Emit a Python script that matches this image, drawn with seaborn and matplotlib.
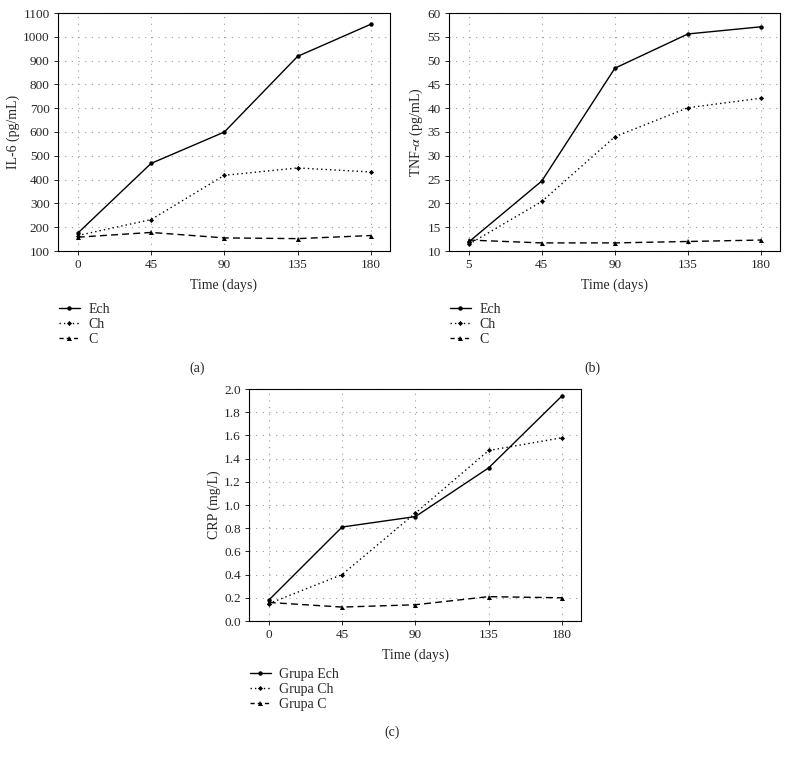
import matplotlib
matplotlib.use("Agg")
import matplotlib.pyplot as plt
import seaborn as sns
import pandas as pd
from matplotlib.lines import Line2D

# ---------------- data ----------------
days_a = ["0", "45", "90", "135", "180"]
days_b = ["5", "45", "90", "135", "180"]
days_c = ["0", "45", "90", "135", "180"]

il6_ech = [175, 468, 600, 918, 1053]
il6_ch = [165, 232, 418, 449, 432]
il6_c = [158, 178, 155, 152, 165]

tnf_ech = [11.9, 24.7, 48.4, 55.6, 57.1]
tnf_ch = [11.4, 20.4, 34.0, 40.1, 42.1]
tnf_c = [12.3, 11.7, 11.7, 12.0, 12.3]

crp_ech = [0.18, 0.81, 0.90, 1.32, 1.94]
crp_ch = [0.15, 0.40, 0.93, 1.47, 1.58]
crp_c = [0.16, 0.12, 0.14, 0.21, 0.20]

groups_ab = ["Ech", "Ch", "C"]
groups_c = ["Grupa Ech", "Grupa Ch", "Grupa C"]

# ---------------- style ----------------
sns.set_style("white")
plt.rcParams["font.family"] = ["Liberation Serif", "DejaVu Serif"]
plt.rcParams["mathtext.fontset"] = "stix"

W, H = 789, 759
fig = plt.figure(figsize=(W / 100, H / 100), dpi=100)

def frac(l, t, r, b):
    return [l / W, 1 - b / H, (r - l) / W, (b - t) / H]

dash_styles = ["", (1, 2.2), (5, 3)]
legend_dashes = ["", (1, 2.2), (3, 2.2)]
marker_styles = ["o", "D", "^"]
msizes = [3.2, 2.6, 3.6]


def panel(rect, labels, series, groups, ylabel, yticks, ylim, yfmt):
    ax = fig.add_axes(rect)
    rows = []
    for g, vals in zip(groups, series):
        for i, v in enumerate(vals):
            rows.append({"pos": i, "val": v, "grp": g})
    df = pd.DataFrame(rows)
    for k, g in enumerate(groups):
        sub = df[df.grp == g]
        sns.lineplot(data=sub, x="pos", y="val", ax=ax, color="black",
                     linewidth=1.0, marker=marker_styles[k],
                     markersize=msizes[k], markeredgewidth=0,
                     dashes=False, legend=False)
        line = ax.lines[-1]
        if dash_styles[k]:
            line.set_dashes(dash_styles[k])
    ax.set_xlim(-0.27, 4.26)
    ax.set_ylim(*ylim)
    ax.set_xticks(range(len(labels)))
    ax.set_xticklabels(labels)
    ax.set_yticks(yticks)
    ax.set_yticklabels([yfmt.format(t) for t in yticks])
    ax.grid(True, color="#999999", linestyle=(0, (1, 5)), linewidth=0.8)
    ax.set_axisbelow(True)
    for s in ax.spines.values():
        s.set_color("black")
        s.set_linewidth(0.8)
    ax.tick_params(axis="both", which="both", labelsize=9.5, length=3,
                   width=0.6, direction="out", color="black", pad=3,
                   left=True, bottom=True)
    ax.set_xlabel("Time (days)", fontsize=10, labelpad=5)
    ax.set_ylabel(ylabel, fontsize=10, labelpad=2)
    return ax


ax_a = panel(frac(58, 13, 390, 251), days_a, [il6_ech, il6_ch, il6_c], groups_ab,
             "IL-6 (pg/mL)", list(range(100, 1101, 100)), (100, 1100), "{:d}")
ax_b = panel(frac(449, 13, 780, 251), days_b, [tnf_ech, tnf_ch, tnf_c], groups_ab,
             r"TNF-$\alpha$ (pg/mL)", list(range(10, 61, 5)), (10, 60), "{:d}")
ax_c = panel(frac(249, 389, 581, 621), days_c, [crp_ech, crp_ch, crp_c], groups_c,
             "CRP (mg/L)", [i / 10 for i in range(0, 21, 2)], (0, 2.0), "{:.1f}")


def legend(x, y, groups):
    handles = []
    for k, g in enumerate(groups):
        h = Line2D([], [], color="black", linewidth=1.0,
                   marker=marker_styles[k], markersize=msizes[k],
                   markeredgewidth=0)
        if legend_dashes[k]:
            h.set_dashes(legend_dashes[k])
        handles.append(h)
    fig.legend(handles, groups, loc="upper left",
               bbox_to_anchor=(x / W, 1 - y / H), frameon=False,
               fontsize=10, handlelength=1.5, handletextpad=0.6,
               labelspacing=0.15, borderpad=0, borderaxespad=0)


legend(59, 303, groups_ab)
legend(450, 303, groups_ab)
legend(250, 668, groups_c)

fig.text(197 / W, 1 - 368 / H, "(a)", ha="center", va="center", fontsize=10)
fig.text(592 / W, 1 - 368 / H, "(b)", ha="center", va="center", fontsize=10)
fig.text(392 / W, 1 - 732 / H, "(c)", ha="center", va="center", fontsize=10)

fig.savefig("out.png", dpi=100, facecolor="white")
